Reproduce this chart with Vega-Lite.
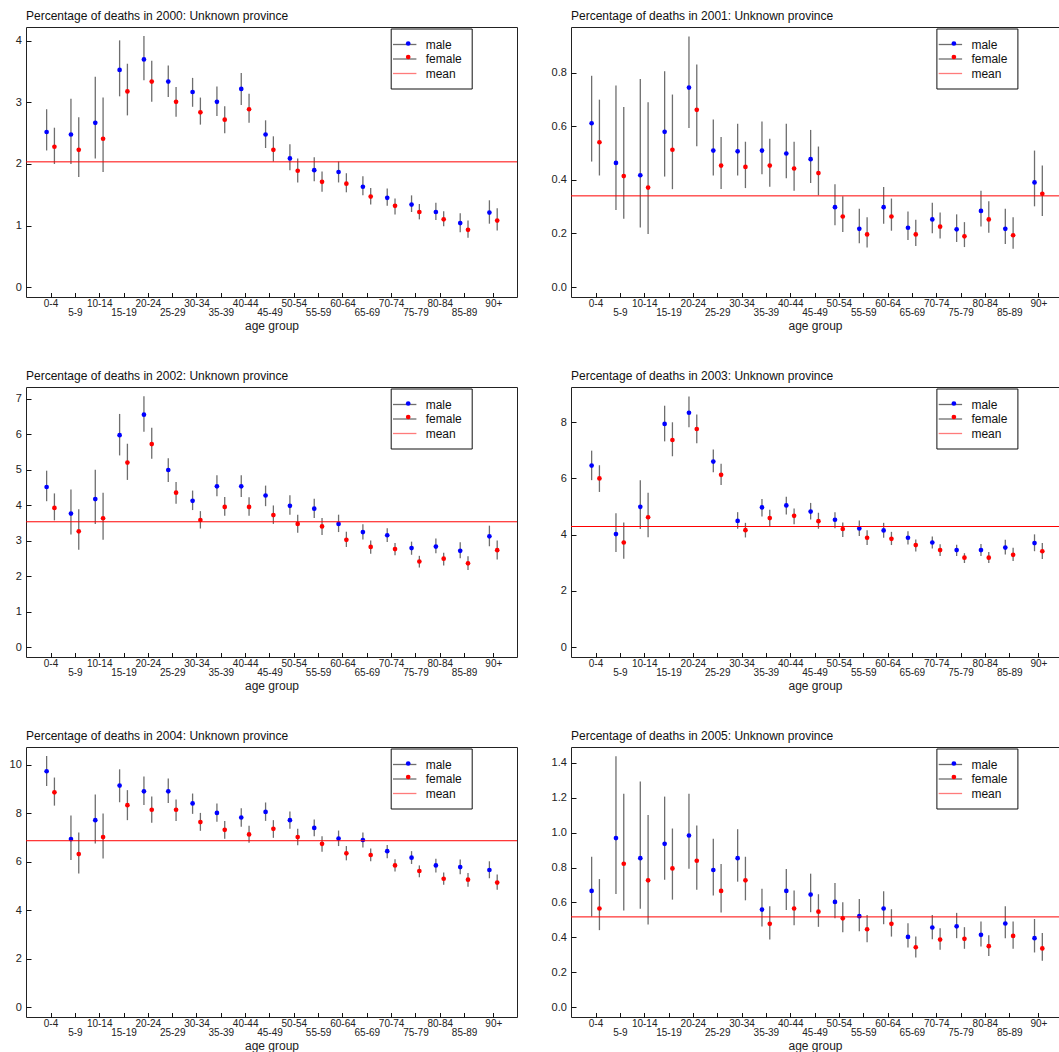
{
"$schema": "https://vega.github.io/schema/vega-lite/v6.json",
"background": "white",
"padding": {"left": 8, "top": 9, "right": 0, "bottom": 0},
"datasets": {
"means": [{"year":2000,"mean":2.035},{"year":2001,"mean":0.340},{"year":2002,"mean":3.53},{"year":2003,"mean":4.29},{"year":2004,"mean":6.87},{"year":2005,"mean":0.517}],
"deaths": [
{"year":2000,"age":"0-4","mid":2.5,"sex":"male","pct":2.52,"lo":2.22,"hi":2.89},
{"year":2000,"age":"5-9","mid":7.5,"sex":"male","pct":2.48,"lo":2.00,"hi":3.06},
{"year":2000,"age":"10-14","mid":12.5,"sex":"male","pct":2.67,"lo":2.09,"hi":3.42},
{"year":2000,"age":"15-19","mid":17.5,"sex":"male","pct":3.53,"lo":3.10,"hi":4.01},
{"year":2000,"age":"20-24","mid":22.5,"sex":"male","pct":3.70,"lo":3.36,"hi":4.08},
{"year":2000,"age":"25-29","mid":27.5,"sex":"male","pct":3.34,"lo":3.09,"hi":3.60},
{"year":2000,"age":"30-34","mid":32.5,"sex":"male","pct":3.17,"lo":2.93,"hi":3.40},
{"year":2000,"age":"35-39","mid":37.5,"sex":"male","pct":3.01,"lo":2.78,"hi":3.26},
{"year":2000,"age":"40-44","mid":42.5,"sex":"male","pct":3.22,"lo":2.96,"hi":3.48},
{"year":2000,"age":"45-49","mid":47.5,"sex":"male","pct":2.48,"lo":2.26,"hi":2.71},
{"year":2000,"age":"50-54","mid":52.5,"sex":"male","pct":2.09,"lo":1.90,"hi":2.32},
{"year":2000,"age":"55-59","mid":57.5,"sex":"male","pct":1.90,"lo":1.72,"hi":2.11},
{"year":2000,"age":"60-64","mid":62.5,"sex":"male","pct":1.87,"lo":1.70,"hi":2.04},
{"year":2000,"age":"65-69","mid":67.5,"sex":"male","pct":1.63,"lo":1.49,"hi":1.80},
{"year":2000,"age":"70-74","mid":72.5,"sex":"male","pct":1.45,"lo":1.32,"hi":1.60},
{"year":2000,"age":"75-79","mid":77.5,"sex":"male","pct":1.34,"lo":1.22,"hi":1.49},
{"year":2000,"age":"80-84","mid":82.5,"sex":"male","pct":1.22,"lo":1.09,"hi":1.37},
{"year":2000,"age":"85-89","mid":87.5,"sex":"male","pct":1.04,"lo":0.89,"hi":1.20},
{"year":2000,"age":"90+","mid":93.5,"sex":"male","pct":1.21,"lo":1.03,"hi":1.41},
{"year":2000,"age":"0-4","mid":2.5,"sex":"female","pct":2.28,"lo":2.00,"hi":2.59},
{"year":2000,"age":"5-9","mid":7.5,"sex":"female","pct":2.23,"lo":1.79,"hi":2.76},
{"year":2000,"age":"10-14","mid":12.5,"sex":"female","pct":2.41,"lo":1.87,"hi":3.08},
{"year":2000,"age":"15-19","mid":17.5,"sex":"female","pct":3.18,"lo":2.79,"hi":3.63},
{"year":2000,"age":"20-24","mid":22.5,"sex":"female","pct":3.34,"lo":3.01,"hi":3.68},
{"year":2000,"age":"25-29","mid":27.5,"sex":"female","pct":3.01,"lo":2.77,"hi":3.25},
{"year":2000,"age":"30-34","mid":32.5,"sex":"female","pct":2.84,"lo":2.64,"hi":3.08},
{"year":2000,"age":"35-39","mid":37.5,"sex":"female","pct":2.72,"lo":2.50,"hi":2.94},
{"year":2000,"age":"40-44","mid":42.5,"sex":"female","pct":2.89,"lo":2.67,"hi":3.14},
{"year":2000,"age":"45-49","mid":47.5,"sex":"female","pct":2.23,"lo":2.04,"hi":2.45},
{"year":2000,"age":"50-54","mid":52.5,"sex":"female","pct":1.89,"lo":1.70,"hi":2.09},
{"year":2000,"age":"55-59","mid":57.5,"sex":"female","pct":1.71,"lo":1.55,"hi":1.88},
{"year":2000,"age":"60-64","mid":62.5,"sex":"female","pct":1.68,"lo":1.54,"hi":1.85},
{"year":2000,"age":"65-69","mid":67.5,"sex":"female","pct":1.47,"lo":1.34,"hi":1.61},
{"year":2000,"age":"70-74","mid":72.5,"sex":"female","pct":1.32,"lo":1.18,"hi":1.44},
{"year":2000,"age":"75-79","mid":77.5,"sex":"female","pct":1.22,"lo":1.10,"hi":1.35},
{"year":2000,"age":"80-84","mid":82.5,"sex":"female","pct":1.10,"lo":0.99,"hi":1.23},
{"year":2000,"age":"85-89","mid":87.5,"sex":"female","pct":0.93,"lo":0.80,"hi":1.08},
{"year":2000,"age":"90+","mid":93.5,"sex":"female","pct":1.08,"lo":0.92,"hi":1.28},
{"year":2001,"age":"0-4","mid":2.5,"sex":"male","pct":0.611,"lo":0.468,"hi":0.788},
{"year":2001,"age":"5-9","mid":7.5,"sex":"male","pct":0.463,"lo":0.287,"hi":0.752},
{"year":2001,"age":"10-14","mid":12.5,"sex":"male","pct":0.417,"lo":0.222,"hi":0.776},
{"year":2001,"age":"15-19","mid":17.5,"sex":"male","pct":0.579,"lo":0.412,"hi":0.805},
{"year":2001,"age":"20-24","mid":22.5,"sex":"male","pct":0.744,"lo":0.593,"hi":0.935},
{"year":2001,"age":"25-29","mid":27.5,"sex":"male","pct":0.509,"lo":0.416,"hi":0.625},
{"year":2001,"age":"30-34","mid":32.5,"sex":"male","pct":0.506,"lo":0.416,"hi":0.609},
{"year":2001,"age":"35-39","mid":37.5,"sex":"male","pct":0.509,"lo":0.421,"hi":0.617},
{"year":2001,"age":"40-44","mid":42.5,"sex":"male","pct":0.498,"lo":0.406,"hi":0.609},
{"year":2001,"age":"45-49","mid":47.5,"sex":"male","pct":0.477,"lo":0.388,"hi":0.586},
{"year":2001,"age":"50-54","mid":52.5,"sex":"male","pct":0.298,"lo":0.230,"hi":0.383},
{"year":2001,"age":"55-59","mid":57.5,"sex":"male","pct":0.217,"lo":0.163,"hi":0.292},
{"year":2001,"age":"60-64","mid":62.5,"sex":"male","pct":0.298,"lo":0.236,"hi":0.373},
{"year":2001,"age":"65-69","mid":67.5,"sex":"male","pct":0.221,"lo":0.175,"hi":0.282},
{"year":2001,"age":"70-74","mid":72.5,"sex":"male","pct":0.252,"lo":0.201,"hi":0.314},
{"year":2001,"age":"75-79","mid":77.5,"sex":"male","pct":0.215,"lo":0.168,"hi":0.271},
{"year":2001,"age":"80-84","mid":82.5,"sex":"male","pct":0.284,"lo":0.226,"hi":0.359},
{"year":2001,"age":"85-89","mid":87.5,"sex":"male","pct":0.217,"lo":0.160,"hi":0.292},
{"year":2001,"age":"90+","mid":93.5,"sex":"male","pct":0.390,"lo":0.301,"hi":0.509},
{"year":2001,"age":"0-4","mid":2.5,"sex":"female","pct":0.540,"lo":0.416,"hi":0.699},
{"year":2001,"age":"5-9","mid":7.5,"sex":"female","pct":0.414,"lo":0.255,"hi":0.672},
{"year":2001,"age":"10-14","mid":12.5,"sex":"female","pct":0.371,"lo":0.198,"hi":0.689},
{"year":2001,"age":"15-19","mid":17.5,"sex":"female","pct":0.512,"lo":0.365,"hi":0.718},
{"year":2001,"age":"20-24","mid":22.5,"sex":"female","pct":0.661,"lo":0.525,"hi":0.830},
{"year":2001,"age":"25-29","mid":27.5,"sex":"female","pct":0.453,"lo":0.366,"hi":0.560},
{"year":2001,"age":"30-34","mid":32.5,"sex":"female","pct":0.448,"lo":0.369,"hi":0.542},
{"year":2001,"age":"35-39","mid":37.5,"sex":"female","pct":0.453,"lo":0.374,"hi":0.553},
{"year":2001,"age":"40-44","mid":42.5,"sex":"female","pct":0.442,"lo":0.359,"hi":0.542},
{"year":2001,"age":"45-49","mid":47.5,"sex":"female","pct":0.425,"lo":0.342,"hi":0.524},
{"year":2001,"age":"50-54","mid":52.5,"sex":"female","pct":0.263,"lo":0.205,"hi":0.339},
{"year":2001,"age":"55-59","mid":57.5,"sex":"female","pct":0.196,"lo":0.147,"hi":0.260},
{"year":2001,"age":"60-64","mid":62.5,"sex":"female","pct":0.263,"lo":0.210,"hi":0.330},
{"year":2001,"age":"65-69","mid":67.5,"sex":"female","pct":0.196,"lo":0.153,"hi":0.251},
{"year":2001,"age":"70-74","mid":72.5,"sex":"female","pct":0.225,"lo":0.181,"hi":0.278},
{"year":2001,"age":"75-79","mid":77.5,"sex":"female","pct":0.189,"lo":0.149,"hi":0.242},
{"year":2001,"age":"80-84","mid":82.5,"sex":"female","pct":0.252,"lo":0.202,"hi":0.320},
{"year":2001,"age":"85-89","mid":87.5,"sex":"female","pct":0.193,"lo":0.143,"hi":0.260},
{"year":2001,"age":"90+","mid":93.5,"sex":"female","pct":0.348,"lo":0.265,"hi":0.453},
{"year":2002,"age":"0-4","mid":2.5,"sex":"male","pct":4.51,"lo":4.11,"hi":4.97},
{"year":2002,"age":"5-9","mid":7.5,"sex":"male","pct":3.76,"lo":3.17,"hi":4.44},
{"year":2002,"age":"10-14","mid":12.5,"sex":"male","pct":4.17,"lo":3.47,"hi":5.00},
{"year":2002,"age":"15-19","mid":17.5,"sex":"male","pct":5.97,"lo":5.40,"hi":6.57},
{"year":2002,"age":"20-24","mid":22.5,"sex":"male","pct":6.55,"lo":6.07,"hi":7.07},
{"year":2002,"age":"25-29","mid":27.5,"sex":"male","pct":4.99,"lo":4.65,"hi":5.32},
{"year":2002,"age":"30-34","mid":32.5,"sex":"male","pct":4.12,"lo":3.86,"hi":4.41},
{"year":2002,"age":"35-39","mid":37.5,"sex":"male","pct":4.53,"lo":4.25,"hi":4.84},
{"year":2002,"age":"40-44","mid":42.5,"sex":"male","pct":4.53,"lo":4.23,"hi":4.84},
{"year":2002,"age":"45-49","mid":47.5,"sex":"male","pct":4.27,"lo":3.97,"hi":4.55},
{"year":2002,"age":"50-54","mid":52.5,"sex":"male","pct":3.98,"lo":3.73,"hi":4.28},
{"year":2002,"age":"55-59","mid":57.5,"sex":"male","pct":3.90,"lo":3.64,"hi":4.18},
{"year":2002,"age":"60-64","mid":62.5,"sex":"male","pct":3.47,"lo":3.24,"hi":3.73},
{"year":2002,"age":"65-69","mid":67.5,"sex":"male","pct":3.24,"lo":3.03,"hi":3.46},
{"year":2002,"age":"70-74","mid":72.5,"sex":"male","pct":3.15,"lo":2.96,"hi":3.35},
{"year":2002,"age":"75-79","mid":77.5,"sex":"male","pct":2.79,"lo":2.60,"hi":2.97},
{"year":2002,"age":"80-84","mid":82.5,"sex":"male","pct":2.83,"lo":2.64,"hi":3.06},
{"year":2002,"age":"85-89","mid":87.5,"sex":"male","pct":2.71,"lo":2.50,"hi":2.95},
{"year":2002,"age":"90+","mid":93.5,"sex":"male","pct":3.12,"lo":2.84,"hi":3.42},
{"year":2002,"age":"0-4","mid":2.5,"sex":"female","pct":3.92,"lo":3.57,"hi":4.33},
{"year":2002,"age":"5-9","mid":7.5,"sex":"female","pct":3.26,"lo":2.74,"hi":3.88},
{"year":2002,"age":"10-14","mid":12.5,"sex":"female","pct":3.63,"lo":3.02,"hi":4.35},
{"year":2002,"age":"15-19","mid":17.5,"sex":"female","pct":5.20,"lo":4.71,"hi":5.73},
{"year":2002,"age":"20-24","mid":22.5,"sex":"female","pct":5.72,"lo":5.31,"hi":6.18},
{"year":2002,"age":"25-29","mid":27.5,"sex":"female","pct":4.35,"lo":4.04,"hi":4.65},
{"year":2002,"age":"30-34","mid":32.5,"sex":"female","pct":3.58,"lo":3.34,"hi":3.83},
{"year":2002,"age":"35-39","mid":37.5,"sex":"female","pct":3.95,"lo":3.70,"hi":4.23},
{"year":2002,"age":"40-44","mid":42.5,"sex":"female","pct":3.95,"lo":3.70,"hi":4.22},
{"year":2002,"age":"45-49","mid":47.5,"sex":"female","pct":3.72,"lo":3.47,"hi":3.99},
{"year":2002,"age":"50-54","mid":52.5,"sex":"female","pct":3.47,"lo":3.22,"hi":3.73},
{"year":2002,"age":"55-59","mid":57.5,"sex":"female","pct":3.40,"lo":3.16,"hi":3.64},
{"year":2002,"age":"60-64","mid":62.5,"sex":"female","pct":3.02,"lo":2.82,"hi":3.25},
{"year":2002,"age":"65-69","mid":67.5,"sex":"female","pct":2.82,"lo":2.63,"hi":3.00},
{"year":2002,"age":"70-74","mid":72.5,"sex":"female","pct":2.76,"lo":2.59,"hi":2.93},
{"year":2002,"age":"75-79","mid":77.5,"sex":"female","pct":2.41,"lo":2.24,"hi":2.57},
{"year":2002,"age":"80-84","mid":82.5,"sex":"female","pct":2.49,"lo":2.30,"hi":2.66},
{"year":2002,"age":"85-89","mid":87.5,"sex":"female","pct":2.36,"lo":2.17,"hi":2.56},
{"year":2002,"age":"90+","mid":93.5,"sex":"female","pct":2.73,"lo":2.47,"hi":3.00},
{"year":2003,"age":"0-4","mid":2.5,"sex":"male","pct":6.46,"lo":5.94,"hi":6.99},
{"year":2003,"age":"5-9","mid":7.5,"sex":"male","pct":4.02,"lo":3.38,"hi":4.76},
{"year":2003,"age":"10-14","mid":12.5,"sex":"male","pct":4.99,"lo":4.20,"hi":5.94},
{"year":2003,"age":"15-19","mid":17.5,"sex":"male","pct":7.94,"lo":7.32,"hi":8.59},
{"year":2003,"age":"20-24","mid":22.5,"sex":"male","pct":8.34,"lo":7.82,"hi":8.92},
{"year":2003,"age":"25-29","mid":27.5,"sex":"male","pct":6.60,"lo":6.22,"hi":7.03},
{"year":2003,"age":"30-34","mid":32.5,"sex":"male","pct":4.49,"lo":4.21,"hi":4.80},
{"year":2003,"age":"35-39","mid":37.5,"sex":"male","pct":4.97,"lo":4.65,"hi":5.27},
{"year":2003,"age":"40-44","mid":42.5,"sex":"male","pct":5.04,"lo":4.72,"hi":5.35},
{"year":2003,"age":"45-49","mid":47.5,"sex":"male","pct":4.82,"lo":4.54,"hi":5.13},
{"year":2003,"age":"50-54","mid":52.5,"sex":"male","pct":4.53,"lo":4.23,"hi":4.80},
{"year":2003,"age":"55-59","mid":57.5,"sex":"male","pct":4.22,"lo":3.95,"hi":4.50},
{"year":2003,"age":"60-64","mid":62.5,"sex":"male","pct":4.15,"lo":3.89,"hi":4.42},
{"year":2003,"age":"65-69","mid":67.5,"sex":"male","pct":3.89,"lo":3.65,"hi":4.12},
{"year":2003,"age":"70-74","mid":72.5,"sex":"male","pct":3.72,"lo":3.51,"hi":3.93},
{"year":2003,"age":"75-79","mid":77.5,"sex":"male","pct":3.45,"lo":3.24,"hi":3.64},
{"year":2003,"age":"80-84","mid":82.5,"sex":"male","pct":3.45,"lo":3.24,"hi":3.67},
{"year":2003,"age":"85-89","mid":87.5,"sex":"male","pct":3.54,"lo":3.29,"hi":3.82},
{"year":2003,"age":"90+","mid":93.5,"sex":"male","pct":3.70,"lo":3.41,"hi":4.01},
{"year":2003,"age":"0-4","mid":2.5,"sex":"female","pct":6.00,"lo":5.52,"hi":6.47},
{"year":2003,"age":"5-9","mid":7.5,"sex":"female","pct":3.72,"lo":3.14,"hi":4.43},
{"year":2003,"age":"10-14","mid":12.5,"sex":"female","pct":4.62,"lo":3.91,"hi":5.49},
{"year":2003,"age":"15-19","mid":17.5,"sex":"female","pct":7.37,"lo":6.79,"hi":8.00},
{"year":2003,"age":"20-24","mid":22.5,"sex":"female","pct":7.76,"lo":7.25,"hi":8.28},
{"year":2003,"age":"25-29","mid":27.5,"sex":"female","pct":6.13,"lo":5.77,"hi":6.52},
{"year":2003,"age":"30-34","mid":32.5,"sex":"female","pct":4.16,"lo":3.90,"hi":4.42},
{"year":2003,"age":"35-39","mid":37.5,"sex":"female","pct":4.59,"lo":4.30,"hi":4.89},
{"year":2003,"age":"40-44","mid":42.5,"sex":"female","pct":4.67,"lo":4.37,"hi":4.93},
{"year":2003,"age":"45-49","mid":47.5,"sex":"female","pct":4.48,"lo":4.21,"hi":4.78},
{"year":2003,"age":"50-54","mid":52.5,"sex":"female","pct":4.20,"lo":3.92,"hi":4.43},
{"year":2003,"age":"55-59","mid":57.5,"sex":"female","pct":3.89,"lo":3.63,"hi":4.16},
{"year":2003,"age":"60-64","mid":62.5,"sex":"female","pct":3.85,"lo":3.63,"hi":4.10},
{"year":2003,"age":"65-69","mid":67.5,"sex":"female","pct":3.63,"lo":3.40,"hi":3.83},
{"year":2003,"age":"70-74","mid":72.5,"sex":"female","pct":3.45,"lo":3.24,"hi":3.66},
{"year":2003,"age":"75-79","mid":77.5,"sex":"female","pct":3.18,"lo":2.99,"hi":3.34},
{"year":2003,"age":"80-84","mid":82.5,"sex":"female","pct":3.18,"lo":2.99,"hi":3.38},
{"year":2003,"age":"85-89","mid":87.5,"sex":"female","pct":3.28,"lo":3.06,"hi":3.53},
{"year":2003,"age":"90+","mid":93.5,"sex":"female","pct":3.41,"lo":3.13,"hi":3.70},
{"year":2004,"age":"0-4","mid":2.5,"sex":"male","pct":9.74,"lo":9.13,"hi":10.37},
{"year":2004,"age":"5-9","mid":7.5,"sex":"male","pct":6.94,"lo":6.07,"hi":7.91},
{"year":2004,"age":"10-14","mid":12.5,"sex":"male","pct":7.72,"lo":6.76,"hi":8.78},
{"year":2004,"age":"15-19","mid":17.5,"sex":"male","pct":9.15,"lo":8.46,"hi":9.82},
{"year":2004,"age":"20-24","mid":22.5,"sex":"male","pct":8.91,"lo":8.35,"hi":9.52},
{"year":2004,"age":"25-29","mid":27.5,"sex":"male","pct":8.91,"lo":8.43,"hi":9.44},
{"year":2004,"age":"30-34","mid":32.5,"sex":"male","pct":8.41,"lo":7.98,"hi":8.82},
{"year":2004,"age":"35-39","mid":37.5,"sex":"male","pct":8.02,"lo":7.65,"hi":8.41},
{"year":2004,"age":"40-44","mid":42.5,"sex":"male","pct":7.83,"lo":7.45,"hi":8.21},
{"year":2004,"age":"45-49","mid":47.5,"sex":"male","pct":8.06,"lo":7.69,"hi":8.45},
{"year":2004,"age":"50-54","mid":52.5,"sex":"male","pct":7.72,"lo":7.36,"hi":8.08},
{"year":2004,"age":"55-59","mid":57.5,"sex":"male","pct":7.40,"lo":7.06,"hi":7.75},
{"year":2004,"age":"60-64","mid":62.5,"sex":"male","pct":6.96,"lo":6.65,"hi":7.29},
{"year":2004,"age":"65-69","mid":67.5,"sex":"male","pct":6.90,"lo":6.59,"hi":7.21},
{"year":2004,"age":"70-74","mid":72.5,"sex":"male","pct":6.44,"lo":6.15,"hi":6.69},
{"year":2004,"age":"75-79","mid":77.5,"sex":"male","pct":6.17,"lo":5.91,"hi":6.44},
{"year":2004,"age":"80-84","mid":82.5,"sex":"male","pct":5.85,"lo":5.56,"hi":6.13},
{"year":2004,"age":"85-89","mid":87.5,"sex":"male","pct":5.78,"lo":5.48,"hi":6.09},
{"year":2004,"age":"90+","mid":93.5,"sex":"male","pct":5.66,"lo":5.32,"hi":6.02},
{"year":2004,"age":"0-4","mid":2.5,"sex":"female","pct":8.87,"lo":8.32,"hi":9.48},
{"year":2004,"age":"5-9","mid":7.5,"sex":"female","pct":6.32,"lo":5.52,"hi":7.21},
{"year":2004,"age":"10-14","mid":12.5,"sex":"female","pct":7.02,"lo":6.14,"hi":7.99},
{"year":2004,"age":"15-19","mid":17.5,"sex":"female","pct":8.34,"lo":7.72,"hi":8.96},
{"year":2004,"age":"20-24","mid":22.5,"sex":"female","pct":8.15,"lo":7.61,"hi":8.70},
{"year":2004,"age":"25-29","mid":27.5,"sex":"female","pct":8.15,"lo":7.69,"hi":8.57},
{"year":2004,"age":"30-34","mid":32.5,"sex":"female","pct":7.64,"lo":7.28,"hi":8.02},
{"year":2004,"age":"35-39","mid":37.5,"sex":"female","pct":7.32,"lo":6.95,"hi":7.68},
{"year":2004,"age":"40-44","mid":42.5,"sex":"female","pct":7.13,"lo":6.79,"hi":7.49},
{"year":2004,"age":"45-49","mid":47.5,"sex":"female","pct":7.36,"lo":6.99,"hi":7.72},
{"year":2004,"age":"50-54","mid":52.5,"sex":"female","pct":7.02,"lo":6.68,"hi":7.36},
{"year":2004,"age":"55-59","mid":57.5,"sex":"female","pct":6.74,"lo":6.41,"hi":7.06},
{"year":2004,"age":"60-64","mid":62.5,"sex":"female","pct":6.35,"lo":6.06,"hi":6.65},
{"year":2004,"age":"65-69","mid":67.5,"sex":"female","pct":6.28,"lo":6.02,"hi":6.55},
{"year":2004,"age":"70-74","mid":72.5,"sex":"female","pct":5.85,"lo":5.60,"hi":6.10},
{"year":2004,"age":"75-79","mid":77.5,"sex":"female","pct":5.62,"lo":5.36,"hi":5.85},
{"year":2004,"age":"80-84","mid":82.5,"sex":"female","pct":5.30,"lo":5.05,"hi":5.56},
{"year":2004,"age":"85-89","mid":87.5,"sex":"female","pct":5.26,"lo":4.97,"hi":5.54},
{"year":2004,"age":"90+","mid":93.5,"sex":"female","pct":5.14,"lo":4.84,"hi":5.47},
{"year":2005,"age":"0-4","mid":2.5,"sex":"male","pct":0.666,"lo":0.519,"hi":0.862},
{"year":2005,"age":"5-9","mid":7.5,"sex":"male","pct":0.969,"lo":0.648,"hi":1.438},
{"year":2005,"age":"10-14","mid":12.5,"sex":"male","pct":0.854,"lo":0.563,"hi":1.293},
{"year":2005,"age":"15-19","mid":17.5,"sex":"male","pct":0.936,"lo":0.730,"hi":1.207},
{"year":2005,"age":"20-24","mid":22.5,"sex":"male","pct":0.984,"lo":0.793,"hi":1.224},
{"year":2005,"age":"25-29","mid":27.5,"sex":"male","pct":0.786,"lo":0.639,"hi":0.965},
{"year":2005,"age":"30-34","mid":32.5,"sex":"male","pct":0.854,"lo":0.719,"hi":1.020},
{"year":2005,"age":"35-39","mid":37.5,"sex":"male","pct":0.559,"lo":0.462,"hi":0.679},
{"year":2005,"age":"40-44","mid":42.5,"sex":"male","pct":0.666,"lo":0.557,"hi":0.792},
{"year":2005,"age":"45-49","mid":47.5,"sex":"male","pct":0.645,"lo":0.544,"hi":0.765},
{"year":2005,"age":"50-54","mid":52.5,"sex":"male","pct":0.603,"lo":0.509,"hi":0.711},
{"year":2005,"age":"55-59","mid":57.5,"sex":"male","pct":0.521,"lo":0.435,"hi":0.620},
{"year":2005,"age":"60-64","mid":62.5,"sex":"male","pct":0.565,"lo":0.475,"hi":0.664},
{"year":2005,"age":"65-69","mid":67.5,"sex":"male","pct":0.402,"lo":0.341,"hi":0.481},
{"year":2005,"age":"70-74","mid":72.5,"sex":"male","pct":0.456,"lo":0.389,"hi":0.528},
{"year":2005,"age":"75-79","mid":77.5,"sex":"male","pct":0.463,"lo":0.395,"hi":0.540},
{"year":2005,"age":"80-84","mid":82.5,"sex":"male","pct":0.414,"lo":0.347,"hi":0.490},
{"year":2005,"age":"85-89","mid":87.5,"sex":"male","pct":0.479,"lo":0.395,"hi":0.578},
{"year":2005,"age":"90+","mid":93.5,"sex":"male","pct":0.395,"lo":0.313,"hi":0.505},
{"year":2005,"age":"0-4","mid":2.5,"sex":"female","pct":0.565,"lo":0.441,"hi":0.734},
{"year":2005,"age":"5-9","mid":7.5,"sex":"female","pct":0.822,"lo":0.553,"hi":1.224},
{"year":2005,"age":"10-14","mid":12.5,"sex":"female","pct":0.727,"lo":0.473,"hi":1.101},
{"year":2005,"age":"15-19","mid":17.5,"sex":"female","pct":0.795,"lo":0.616,"hi":1.024},
{"year":2005,"age":"20-24","mid":22.5,"sex":"female","pct":0.839,"lo":0.673,"hi":1.041},
{"year":2005,"age":"25-29","mid":27.5,"sex":"female","pct":0.666,"lo":0.542,"hi":0.820},
{"year":2005,"age":"30-34","mid":32.5,"sex":"female","pct":0.727,"lo":0.612,"hi":0.862},
{"year":2005,"age":"35-39","mid":37.5,"sex":"female","pct":0.477,"lo":0.387,"hi":0.578},
{"year":2005,"age":"40-44","mid":42.5,"sex":"female","pct":0.565,"lo":0.469,"hi":0.668},
{"year":2005,"age":"45-49","mid":47.5,"sex":"female","pct":0.547,"lo":0.460,"hi":0.647},
{"year":2005,"age":"50-54","mid":52.5,"sex":"female","pct":0.509,"lo":0.429,"hi":0.601},
{"year":2005,"age":"55-59","mid":57.5,"sex":"female","pct":0.446,"lo":0.372,"hi":0.528},
{"year":2005,"age":"60-64","mid":62.5,"sex":"female","pct":0.477,"lo":0.404,"hi":0.561},
{"year":2005,"age":"65-69","mid":67.5,"sex":"female","pct":0.343,"lo":0.284,"hi":0.404},
{"year":2005,"age":"70-74","mid":72.5,"sex":"female","pct":0.387,"lo":0.328,"hi":0.452},
{"year":2005,"age":"75-79","mid":77.5,"sex":"female","pct":0.391,"lo":0.334,"hi":0.458},
{"year":2005,"age":"80-84","mid":82.5,"sex":"female","pct":0.349,"lo":0.292,"hi":0.412},
{"year":2005,"age":"85-89","mid":87.5,"sex":"female","pct":0.408,"lo":0.334,"hi":0.490},
{"year":2005,"age":"90+","mid":93.5,"sex":"female","pct":0.336,"lo":0.265,"hi":0.425}
]
},
"columns": 2,
"spacing": {"row": 90, "column": 54},
"bounds": "flush",
"align": "each",
"resolve": {"scale": {"color": "independent", "stroke": "independent"}, "legend": {"color": "independent", "stroke": "independent"}},
"concat": [
{"title": "Percentage of deaths in 2000: Unknown province", "width": 491, "height": 270,
 "layer": [
  {"data": {"name": "deaths"}, "transform": [{"filter": "datum.year == 2000 && datum.sex == 'male'"}],
   "mark": {"type": "rule", "xOffset": -3.9, "strokeWidth": 1.3},
   "encoding": {
    "x": {"field": "mid", "type": "quantitative", "scale": {"domain": [-2.54, 98.37], "nice": false, "zero": false},
      "axis": {"title": "age group", "titleY": 32, "titleBaseline": "alphabetic", "labelOverlap": false, "tickCount": 100, "values": [2.5,7.5,12.5,17.5,22.5,27.5,32.5,37.5,42.5,47.5,52.5,57.5,62.5,67.5,72.5,77.5,82.5,87.5,93.5], "labelExpr": "datum.value > 90 ? '90+' : format(datum.value - 2.5, 'd') + '-' + format(datum.value + 1.5, 'd')", "labelPadding": {"condition": {"test": "(datum.value - 2.5) % 10 == 5", "value": 22.7}, "value": 13.7}}},
    "y": {"field": "lo", "type": "quantitative", "scale": {"domain": [-0.162, 4.227], "nice": false, "zero": false}, "axis": {"title": null, "labelOverlap": false, "tickCount": 100, "values": [0,1,2,3,4], "format": "d"}},
    "y2": {"field": "hi"},
    "stroke": {"field": "sex", "type": "nominal", "scale": {"domain": ["male","female","mean"], "range": ["#6e6e6e","#6e6e6e","#ff7b7b"]}, "legend": {"title": null, "orient": "none", "legendX": 364.7, "legendY": 1.5, "symbolType": "M-1.95,0H1.95", "symbolSize": 144, "symbolStrokeWidth": 1.3, "symbolOffset": -2, "strokeColor": "#111111", "fillColor": "#ffffff"}}}},
  {"data": {"name": "deaths"}, "transform": [{"filter": "datum.year == 2000 && datum.sex == 'female'"}],
   "mark": {"type": "rule", "xOffset": 3.9, "strokeWidth": 1.3},
   "encoding": {
    "x": {"field": "mid", "type": "quantitative", "scale": {"domain": [-2.54, 98.37], "nice": false, "zero": false}},
    "y": {"field": "lo", "type": "quantitative", "scale": {"domain": [-0.162, 4.227], "nice": false, "zero": false}},
    "y2": {"field": "hi"},
    "stroke": {"field": "sex", "type": "nominal", "scale": {"domain": ["male","female","mean"], "range": ["#6e6e6e","#6e6e6e","#ff7b7b"]}, "legend": {"title": null, "orient": "none", "legendX": 364.7, "legendY": 1.5, "symbolType": "M-1.95,0H1.95", "symbolSize": 144, "symbolStrokeWidth": 1.3, "symbolOffset": -2, "strokeColor": "#111111", "fillColor": "#ffffff"}}}},
  {"data": {"name": "deaths"}, "transform": [{"filter": "datum.year == 2000 && datum.sex == 'male'"}],
   "mark": {"type": "point", "filled": true, "opacity": 1, "size": 22, "xOffset": -3.9},
   "encoding": {
    "x": {"field": "mid", "type": "quantitative", "scale": {"domain": [-2.54, 98.37], "nice": false, "zero": false}},
    "y": {"field": "pct", "type": "quantitative", "scale": {"domain": [-0.162, 4.227], "nice": false, "zero": false}},
    "color": {"field": "sex", "type": "nominal", "scale": {"domain": ["male","female"], "range": ["#0000ff","#ff0000"]}, "legend": {"title": null, "orient": "none", "legendX": 364.7, "legendY": 1.5, "symbolType": "circle", "symbolSize": 22, "symbolStrokeWidth": 0, "symbolOffset": 2.5, "symbolOpacity": 1, "labelOpacity": 0, "labelExpr": "''", "strokeColor": "transparent", "fillColor": "transparent"}}}},
  {"data": {"name": "deaths"}, "transform": [{"filter": "datum.year == 2000 && datum.sex == 'female'"}],
   "mark": {"type": "point", "filled": true, "opacity": 1, "size": 22, "xOffset": 3.9},
   "encoding": {
    "x": {"field": "mid", "type": "quantitative", "scale": {"domain": [-2.54, 98.37], "nice": false, "zero": false}},
    "y": {"field": "pct", "type": "quantitative", "scale": {"domain": [-0.162, 4.227], "nice": false, "zero": false}},
    "color": {"field": "sex", "type": "nominal", "scale": {"domain": ["male","female"], "range": ["#0000ff","#ff0000"]}, "legend": {"title": null, "orient": "none", "legendX": 364.7, "legendY": 1.5, "symbolType": "circle", "symbolSize": 22, "symbolStrokeWidth": 0, "symbolOffset": 2.5, "symbolOpacity": 1, "labelOpacity": 0, "labelExpr": "''", "strokeColor": "transparent", "fillColor": "transparent"}}}},
  {"data": {"name": "means"}, "transform": [{"filter": "datum.year == 2000"}],
   "mark": {"type": "rule", "color": "#ff0000", "strokeWidth": 1},
   "encoding": {"y": {"field": "mean", "type": "quantitative", "scale": {"domain": [-0.162, 4.227], "nice": false, "zero": false}}}}
 ]},
{"title": "Percentage of deaths in 2001: Unknown province", "width": 488, "height": 270,
 "layer": [
  {"data": {"name": "deaths"}, "transform": [{"filter": "datum.year == 2001 && datum.sex == 'male'"}],
   "mark": {"type": "rule", "xOffset": -3.9, "strokeWidth": 1.3},
   "encoding": {
    "x": {"field": "mid", "type": "quantitative", "scale": {"domain": [-2.54, 97.73], "nice": false, "zero": false},
      "axis": {"title": "age group", "titleY": 32, "titleBaseline": "alphabetic", "labelOverlap": false, "tickCount": 100, "values": [2.5,7.5,12.5,17.5,22.5,27.5,32.5,37.5,42.5,47.5,52.5,57.5,62.5,67.5,72.5,77.5,82.5,87.5,93.5], "labelExpr": "datum.value > 90 ? '90+' : format(datum.value - 2.5, 'd') + '-' + format(datum.value + 1.5, 'd')", "labelPadding": {"condition": {"test": "(datum.value - 2.5) % 10 == 5", "value": 22.7}, "value": 13.7}}},
    "y": {"field": "lo", "type": "quantitative", "scale": {"domain": [-0.0373, 0.970], "nice": false, "zero": false}, "axis": {"title": null, "labelOverlap": false, "tickCount": 100, "values": [0,0.2,0.4,0.6,0.8], "format": ".1f"}},
    "y2": {"field": "hi"},
    "stroke": {"field": "sex", "type": "nominal", "scale": {"domain": ["male","female","mean"], "range": ["#6e6e6e","#6e6e6e","#ff7b7b"]}, "legend": {"title": null, "orient": "none", "legendX": 365.4, "legendY": 1.5, "symbolType": "M-1.95,0H1.95", "symbolSize": 144, "symbolStrokeWidth": 1.3, "symbolOffset": -2, "strokeColor": "#111111", "fillColor": "#ffffff"}}}},
  {"data": {"name": "deaths"}, "transform": [{"filter": "datum.year == 2001 && datum.sex == 'female'"}],
   "mark": {"type": "rule", "xOffset": 3.9, "strokeWidth": 1.3},
   "encoding": {
    "x": {"field": "mid", "type": "quantitative", "scale": {"domain": [-2.54, 97.73], "nice": false, "zero": false}},
    "y": {"field": "lo", "type": "quantitative", "scale": {"domain": [-0.0373, 0.970], "nice": false, "zero": false}},
    "y2": {"field": "hi"},
    "stroke": {"field": "sex", "type": "nominal", "scale": {"domain": ["male","female","mean"], "range": ["#6e6e6e","#6e6e6e","#ff7b7b"]}, "legend": {"title": null, "orient": "none", "legendX": 365.4, "legendY": 1.5, "symbolType": "M-1.95,0H1.95", "symbolSize": 144, "symbolStrokeWidth": 1.3, "symbolOffset": -2, "strokeColor": "#111111", "fillColor": "#ffffff"}}}},
  {"data": {"name": "deaths"}, "transform": [{"filter": "datum.year == 2001 && datum.sex == 'male'"}],
   "mark": {"type": "point", "filled": true, "opacity": 1, "size": 22, "xOffset": -3.9},
   "encoding": {
    "x": {"field": "mid", "type": "quantitative", "scale": {"domain": [-2.54, 97.73], "nice": false, "zero": false}},
    "y": {"field": "pct", "type": "quantitative", "scale": {"domain": [-0.0373, 0.970], "nice": false, "zero": false}},
    "color": {"field": "sex", "type": "nominal", "scale": {"domain": ["male","female"], "range": ["#0000ff","#ff0000"]}, "legend": {"title": null, "orient": "none", "legendX": 365.4, "legendY": 1.5, "symbolType": "circle", "symbolSize": 22, "symbolStrokeWidth": 0, "symbolOffset": 2.5, "symbolOpacity": 1, "labelOpacity": 0, "labelExpr": "''", "strokeColor": "transparent", "fillColor": "transparent"}}}},
  {"data": {"name": "deaths"}, "transform": [{"filter": "datum.year == 2001 && datum.sex == 'female'"}],
   "mark": {"type": "point", "filled": true, "opacity": 1, "size": 22, "xOffset": 3.9},
   "encoding": {
    "x": {"field": "mid", "type": "quantitative", "scale": {"domain": [-2.54, 97.73], "nice": false, "zero": false}},
    "y": {"field": "pct", "type": "quantitative", "scale": {"domain": [-0.0373, 0.970], "nice": false, "zero": false}},
    "color": {"field": "sex", "type": "nominal", "scale": {"domain": ["male","female"], "range": ["#0000ff","#ff0000"]}, "legend": {"title": null, "orient": "none", "legendX": 365.4, "legendY": 1.5, "symbolType": "circle", "symbolSize": 22, "symbolStrokeWidth": 0, "symbolOffset": 2.5, "symbolOpacity": 1, "labelOpacity": 0, "labelExpr": "''", "strokeColor": "transparent", "fillColor": "transparent"}}}},
  {"data": {"name": "means"}, "transform": [{"filter": "datum.year == 2001"}],
   "mark": {"type": "rule", "color": "#ff0000", "strokeWidth": 1},
   "encoding": {"y": {"field": "mean", "type": "quantitative", "scale": {"domain": [-0.0373, 0.970], "nice": false, "zero": false}}}}
 ]},
{"title": "Percentage of deaths in 2002: Unknown province", "width": 491, "height": 270,
 "layer": [
  {"data": {"name": "deaths"}, "transform": [{"filter": "datum.year == 2002 && datum.sex == 'male'"}],
   "mark": {"type": "rule", "xOffset": -3.9, "strokeWidth": 1.3},
   "encoding": {
    "x": {"field": "mid", "type": "quantitative", "scale": {"domain": [-2.54, 98.37], "nice": false, "zero": false},
      "axis": {"title": "age group", "titleY": 32, "titleBaseline": "alphabetic", "labelOverlap": false, "tickCount": 100, "values": [2.5,7.5,12.5,17.5,22.5,27.5,32.5,37.5,42.5,47.5,52.5,57.5,62.5,67.5,72.5,77.5,82.5,87.5,93.5], "labelExpr": "datum.value > 90 ? '90+' : format(datum.value - 2.5, 'd') + '-' + format(datum.value + 1.5, 'd')", "labelPadding": {"condition": {"test": "(datum.value - 2.5) % 10 == 5", "value": 22.7}, "value": 13.7}}},
    "y": {"field": "lo", "type": "quantitative", "scale": {"domain": [-0.2815, 7.329], "nice": false, "zero": false}, "axis": {"title": null, "labelOverlap": false, "tickCount": 100, "values": [0,1,2,3,4,5,6,7], "format": "d"}},
    "y2": {"field": "hi"},
    "stroke": {"field": "sex", "type": "nominal", "scale": {"domain": ["male","female","mean"], "range": ["#6e6e6e","#6e6e6e","#ff7b7b"]}, "legend": {"title": null, "orient": "none", "legendX": 364.7, "legendY": 1.5, "symbolType": "M-1.95,0H1.95", "symbolSize": 144, "symbolStrokeWidth": 1.3, "symbolOffset": -2, "strokeColor": "#111111", "fillColor": "#ffffff"}}}},
  {"data": {"name": "deaths"}, "transform": [{"filter": "datum.year == 2002 && datum.sex == 'female'"}],
   "mark": {"type": "rule", "xOffset": 3.9, "strokeWidth": 1.3},
   "encoding": {
    "x": {"field": "mid", "type": "quantitative", "scale": {"domain": [-2.54, 98.37], "nice": false, "zero": false}},
    "y": {"field": "lo", "type": "quantitative", "scale": {"domain": [-0.2815, 7.329], "nice": false, "zero": false}},
    "y2": {"field": "hi"},
    "stroke": {"field": "sex", "type": "nominal", "scale": {"domain": ["male","female","mean"], "range": ["#6e6e6e","#6e6e6e","#ff7b7b"]}, "legend": {"title": null, "orient": "none", "legendX": 364.7, "legendY": 1.5, "symbolType": "M-1.95,0H1.95", "symbolSize": 144, "symbolStrokeWidth": 1.3, "symbolOffset": -2, "strokeColor": "#111111", "fillColor": "#ffffff"}}}},
  {"data": {"name": "deaths"}, "transform": [{"filter": "datum.year == 2002 && datum.sex == 'male'"}],
   "mark": {"type": "point", "filled": true, "opacity": 1, "size": 22, "xOffset": -3.9},
   "encoding": {
    "x": {"field": "mid", "type": "quantitative", "scale": {"domain": [-2.54, 98.37], "nice": false, "zero": false}},
    "y": {"field": "pct", "type": "quantitative", "scale": {"domain": [-0.2815, 7.329], "nice": false, "zero": false}},
    "color": {"field": "sex", "type": "nominal", "scale": {"domain": ["male","female"], "range": ["#0000ff","#ff0000"]}, "legend": {"title": null, "orient": "none", "legendX": 364.7, "legendY": 1.5, "symbolType": "circle", "symbolSize": 22, "symbolStrokeWidth": 0, "symbolOffset": 2.5, "symbolOpacity": 1, "labelOpacity": 0, "labelExpr": "''", "strokeColor": "transparent", "fillColor": "transparent"}}}},
  {"data": {"name": "deaths"}, "transform": [{"filter": "datum.year == 2002 && datum.sex == 'female'"}],
   "mark": {"type": "point", "filled": true, "opacity": 1, "size": 22, "xOffset": 3.9},
   "encoding": {
    "x": {"field": "mid", "type": "quantitative", "scale": {"domain": [-2.54, 98.37], "nice": false, "zero": false}},
    "y": {"field": "pct", "type": "quantitative", "scale": {"domain": [-0.2815, 7.329], "nice": false, "zero": false}},
    "color": {"field": "sex", "type": "nominal", "scale": {"domain": ["male","female"], "range": ["#0000ff","#ff0000"]}, "legend": {"title": null, "orient": "none", "legendX": 364.7, "legendY": 1.5, "symbolType": "circle", "symbolSize": 22, "symbolStrokeWidth": 0, "symbolOffset": 2.5, "symbolOpacity": 1, "labelOpacity": 0, "labelExpr": "''", "strokeColor": "transparent", "fillColor": "transparent"}}}},
  {"data": {"name": "means"}, "transform": [{"filter": "datum.year == 2002"}],
   "mark": {"type": "rule", "color": "#ff0000", "strokeWidth": 1},
   "encoding": {"y": {"field": "mean", "type": "quantitative", "scale": {"domain": [-0.2815, 7.329], "nice": false, "zero": false}}}}
 ]},
{"title": "Percentage of deaths in 2003: Unknown province", "width": 488, "height": 270,
 "layer": [
  {"data": {"name": "deaths"}, "transform": [{"filter": "datum.year == 2003 && datum.sex == 'male'"}],
   "mark": {"type": "rule", "xOffset": -3.9, "strokeWidth": 1.3},
   "encoding": {
    "x": {"field": "mid", "type": "quantitative", "scale": {"domain": [-2.54, 97.73], "nice": false, "zero": false},
      "axis": {"title": "age group", "titleY": 32, "titleBaseline": "alphabetic", "labelOverlap": false, "tickCount": 100, "values": [2.5,7.5,12.5,17.5,22.5,27.5,32.5,37.5,42.5,47.5,52.5,57.5,62.5,67.5,72.5,77.5,82.5,87.5,93.5], "labelExpr": "datum.value > 90 ? '90+' : format(datum.value - 2.5, 'd') + '-' + format(datum.value + 1.5, 'd')", "labelPadding": {"condition": {"test": "(datum.value - 2.5) % 10 == 5", "value": 22.7}, "value": 13.7}}},
    "y": {"field": "lo", "type": "quantitative", "scale": {"domain": [-0.3556, 9.256], "nice": false, "zero": false}, "axis": {"title": null, "labelOverlap": false, "tickCount": 100, "values": [0,2,4,6,8], "format": "d"}},
    "y2": {"field": "hi"},
    "stroke": {"field": "sex", "type": "nominal", "scale": {"domain": ["male","female","mean"], "range": ["#6e6e6e","#6e6e6e","#ff7b7b"]}, "legend": {"title": null, "orient": "none", "legendX": 365.4, "legendY": 1.5, "symbolType": "M-1.95,0H1.95", "symbolSize": 144, "symbolStrokeWidth": 1.3, "symbolOffset": -2, "strokeColor": "#111111", "fillColor": "#ffffff"}}}},
  {"data": {"name": "deaths"}, "transform": [{"filter": "datum.year == 2003 && datum.sex == 'female'"}],
   "mark": {"type": "rule", "xOffset": 3.9, "strokeWidth": 1.3},
   "encoding": {
    "x": {"field": "mid", "type": "quantitative", "scale": {"domain": [-2.54, 97.73], "nice": false, "zero": false}},
    "y": {"field": "lo", "type": "quantitative", "scale": {"domain": [-0.3556, 9.256], "nice": false, "zero": false}},
    "y2": {"field": "hi"},
    "stroke": {"field": "sex", "type": "nominal", "scale": {"domain": ["male","female","mean"], "range": ["#6e6e6e","#6e6e6e","#ff7b7b"]}, "legend": {"title": null, "orient": "none", "legendX": 365.4, "legendY": 1.5, "symbolType": "M-1.95,0H1.95", "symbolSize": 144, "symbolStrokeWidth": 1.3, "symbolOffset": -2, "strokeColor": "#111111", "fillColor": "#ffffff"}}}},
  {"data": {"name": "deaths"}, "transform": [{"filter": "datum.year == 2003 && datum.sex == 'male'"}],
   "mark": {"type": "point", "filled": true, "opacity": 1, "size": 22, "xOffset": -3.9},
   "encoding": {
    "x": {"field": "mid", "type": "quantitative", "scale": {"domain": [-2.54, 97.73], "nice": false, "zero": false}},
    "y": {"field": "pct", "type": "quantitative", "scale": {"domain": [-0.3556, 9.256], "nice": false, "zero": false}},
    "color": {"field": "sex", "type": "nominal", "scale": {"domain": ["male","female"], "range": ["#0000ff","#ff0000"]}, "legend": {"title": null, "orient": "none", "legendX": 365.4, "legendY": 1.5, "symbolType": "circle", "symbolSize": 22, "symbolStrokeWidth": 0, "symbolOffset": 2.5, "symbolOpacity": 1, "labelOpacity": 0, "labelExpr": "''", "strokeColor": "transparent", "fillColor": "transparent"}}}},
  {"data": {"name": "deaths"}, "transform": [{"filter": "datum.year == 2003 && datum.sex == 'female'"}],
   "mark": {"type": "point", "filled": true, "opacity": 1, "size": 22, "xOffset": 3.9},
   "encoding": {
    "x": {"field": "mid", "type": "quantitative", "scale": {"domain": [-2.54, 97.73], "nice": false, "zero": false}},
    "y": {"field": "pct", "type": "quantitative", "scale": {"domain": [-0.3556, 9.256], "nice": false, "zero": false}},
    "color": {"field": "sex", "type": "nominal", "scale": {"domain": ["male","female"], "range": ["#0000ff","#ff0000"]}, "legend": {"title": null, "orient": "none", "legendX": 365.4, "legendY": 1.5, "symbolType": "circle", "symbolSize": 22, "symbolStrokeWidth": 0, "symbolOffset": 2.5, "symbolOpacity": 1, "labelOpacity": 0, "labelExpr": "''", "strokeColor": "transparent", "fillColor": "transparent"}}}},
  {"data": {"name": "means"}, "transform": [{"filter": "datum.year == 2003"}],
   "mark": {"type": "rule", "color": "#ff0000", "strokeWidth": 1},
   "encoding": {"y": {"field": "mean", "type": "quantitative", "scale": {"domain": [-0.3556, 9.256], "nice": false, "zero": false}}}}
 ]},
{"title": "Percentage of deaths in 2004: Unknown province", "width": 491, "height": 270,
 "layer": [
  {"data": {"name": "deaths"}, "transform": [{"filter": "datum.year == 2004 && datum.sex == 'male'"}],
   "mark": {"type": "rule", "xOffset": -3.9, "strokeWidth": 1.3},
   "encoding": {
    "x": {"field": "mid", "type": "quantitative", "scale": {"domain": [-2.54, 98.37], "nice": false, "zero": false},
      "axis": {"title": "age group", "titleY": 32, "titleBaseline": "alphabetic", "labelOverlap": false, "tickCount": 100, "values": [2.5,7.5,12.5,17.5,22.5,27.5,32.5,37.5,42.5,47.5,52.5,57.5,62.5,67.5,72.5,77.5,82.5,87.5,93.5], "labelExpr": "datum.value > 90 ? '90+' : format(datum.value - 2.5, 'd') + '-' + format(datum.value + 1.5, 'd')", "labelPadding": {"condition": {"test": "(datum.value - 2.5) % 10 == 5", "value": 22.7}, "value": 13.7}}},
    "y": {"field": "lo", "type": "quantitative", "scale": {"domain": [-0.412, 10.742], "nice": false, "zero": false}, "axis": {"title": null, "labelOverlap": false, "tickCount": 100, "values": [0,2,4,6,8,10], "format": "d"}},
    "y2": {"field": "hi"},
    "stroke": {"field": "sex", "type": "nominal", "scale": {"domain": ["male","female","mean"], "range": ["#6e6e6e","#6e6e6e","#ff7b7b"]}, "legend": {"title": null, "orient": "none", "legendX": 364.7, "legendY": 1.5, "symbolType": "M-1.95,0H1.95", "symbolSize": 144, "symbolStrokeWidth": 1.3, "symbolOffset": -2, "strokeColor": "#111111", "fillColor": "#ffffff"}}}},
  {"data": {"name": "deaths"}, "transform": [{"filter": "datum.year == 2004 && datum.sex == 'female'"}],
   "mark": {"type": "rule", "xOffset": 3.9, "strokeWidth": 1.3},
   "encoding": {
    "x": {"field": "mid", "type": "quantitative", "scale": {"domain": [-2.54, 98.37], "nice": false, "zero": false}},
    "y": {"field": "lo", "type": "quantitative", "scale": {"domain": [-0.412, 10.742], "nice": false, "zero": false}},
    "y2": {"field": "hi"},
    "stroke": {"field": "sex", "type": "nominal", "scale": {"domain": ["male","female","mean"], "range": ["#6e6e6e","#6e6e6e","#ff7b7b"]}, "legend": {"title": null, "orient": "none", "legendX": 364.7, "legendY": 1.5, "symbolType": "M-1.95,0H1.95", "symbolSize": 144, "symbolStrokeWidth": 1.3, "symbolOffset": -2, "strokeColor": "#111111", "fillColor": "#ffffff"}}}},
  {"data": {"name": "deaths"}, "transform": [{"filter": "datum.year == 2004 && datum.sex == 'male'"}],
   "mark": {"type": "point", "filled": true, "opacity": 1, "size": 22, "xOffset": -3.9},
   "encoding": {
    "x": {"field": "mid", "type": "quantitative", "scale": {"domain": [-2.54, 98.37], "nice": false, "zero": false}},
    "y": {"field": "pct", "type": "quantitative", "scale": {"domain": [-0.412, 10.742], "nice": false, "zero": false}},
    "color": {"field": "sex", "type": "nominal", "scale": {"domain": ["male","female"], "range": ["#0000ff","#ff0000"]}, "legend": {"title": null, "orient": "none", "legendX": 364.7, "legendY": 1.5, "symbolType": "circle", "symbolSize": 22, "symbolStrokeWidth": 0, "symbolOffset": 2.5, "symbolOpacity": 1, "labelOpacity": 0, "labelExpr": "''", "strokeColor": "transparent", "fillColor": "transparent"}}}},
  {"data": {"name": "deaths"}, "transform": [{"filter": "datum.year == 2004 && datum.sex == 'female'"}],
   "mark": {"type": "point", "filled": true, "opacity": 1, "size": 22, "xOffset": 3.9},
   "encoding": {
    "x": {"field": "mid", "type": "quantitative", "scale": {"domain": [-2.54, 98.37], "nice": false, "zero": false}},
    "y": {"field": "pct", "type": "quantitative", "scale": {"domain": [-0.412, 10.742], "nice": false, "zero": false}},
    "color": {"field": "sex", "type": "nominal", "scale": {"domain": ["male","female"], "range": ["#0000ff","#ff0000"]}, "legend": {"title": null, "orient": "none", "legendX": 364.7, "legendY": 1.5, "symbolType": "circle", "symbolSize": 22, "symbolStrokeWidth": 0, "symbolOffset": 2.5, "symbolOpacity": 1, "labelOpacity": 0, "labelExpr": "''", "strokeColor": "transparent", "fillColor": "transparent"}}}},
  {"data": {"name": "means"}, "transform": [{"filter": "datum.year == 2004"}],
   "mark": {"type": "rule", "color": "#ff0000", "strokeWidth": 1},
   "encoding": {"y": {"field": "mean", "type": "quantitative", "scale": {"domain": [-0.412, 10.742], "nice": false, "zero": false}}}}
 ]},
{"title": "Percentage of deaths in 2005: Unknown province", "width": 488, "height": 270,
 "layer": [
  {"data": {"name": "deaths"}, "transform": [{"filter": "datum.year == 2005 && datum.sex == 'male'"}],
   "mark": {"type": "rule", "xOffset": -3.9, "strokeWidth": 1.3},
   "encoding": {
    "x": {"field": "mid", "type": "quantitative", "scale": {"domain": [-2.54, 97.73], "nice": false, "zero": false},
      "axis": {"title": "age group", "titleY": 32, "titleBaseline": "alphabetic", "labelOverlap": false, "tickCount": 100, "values": [2.5,7.5,12.5,17.5,22.5,27.5,32.5,37.5,42.5,47.5,52.5,57.5,62.5,67.5,72.5,77.5,82.5,87.5,93.5], "labelExpr": "datum.value > 90 ? '90+' : format(datum.value - 2.5, 'd') + '-' + format(datum.value + 1.5, 'd')", "labelPadding": {"condition": {"test": "(datum.value - 2.5) % 10 == 5", "value": 22.7}, "value": 13.7}}},
    "y": {"field": "lo", "type": "quantitative", "scale": {"domain": [-0.0572, 1.4915], "nice": false, "zero": false}, "axis": {"title": null, "labelOverlap": false, "tickCount": 100, "values": [0,0.2,0.4,0.6,0.8,1.0,1.2,1.4], "format": ".1f"}},
    "y2": {"field": "hi"},
    "stroke": {"field": "sex", "type": "nominal", "scale": {"domain": ["male","female","mean"], "range": ["#6e6e6e","#6e6e6e","#ff7b7b"]}, "legend": {"title": null, "orient": "none", "legendX": 365.4, "legendY": 1.5, "symbolType": "M-1.95,0H1.95", "symbolSize": 144, "symbolStrokeWidth": 1.3, "symbolOffset": -2, "strokeColor": "#111111", "fillColor": "#ffffff"}}}},
  {"data": {"name": "deaths"}, "transform": [{"filter": "datum.year == 2005 && datum.sex == 'female'"}],
   "mark": {"type": "rule", "xOffset": 3.9, "strokeWidth": 1.3},
   "encoding": {
    "x": {"field": "mid", "type": "quantitative", "scale": {"domain": [-2.54, 97.73], "nice": false, "zero": false}},
    "y": {"field": "lo", "type": "quantitative", "scale": {"domain": [-0.0572, 1.4915], "nice": false, "zero": false}},
    "y2": {"field": "hi"},
    "stroke": {"field": "sex", "type": "nominal", "scale": {"domain": ["male","female","mean"], "range": ["#6e6e6e","#6e6e6e","#ff7b7b"]}, "legend": {"title": null, "orient": "none", "legendX": 365.4, "legendY": 1.5, "symbolType": "M-1.95,0H1.95", "symbolSize": 144, "symbolStrokeWidth": 1.3, "symbolOffset": -2, "strokeColor": "#111111", "fillColor": "#ffffff"}}}},
  {"data": {"name": "deaths"}, "transform": [{"filter": "datum.year == 2005 && datum.sex == 'male'"}],
   "mark": {"type": "point", "filled": true, "opacity": 1, "size": 22, "xOffset": -3.9},
   "encoding": {
    "x": {"field": "mid", "type": "quantitative", "scale": {"domain": [-2.54, 97.73], "nice": false, "zero": false}},
    "y": {"field": "pct", "type": "quantitative", "scale": {"domain": [-0.0572, 1.4915], "nice": false, "zero": false}},
    "color": {"field": "sex", "type": "nominal", "scale": {"domain": ["male","female"], "range": ["#0000ff","#ff0000"]}, "legend": {"title": null, "orient": "none", "legendX": 365.4, "legendY": 1.5, "symbolType": "circle", "symbolSize": 22, "symbolStrokeWidth": 0, "symbolOffset": 2.5, "symbolOpacity": 1, "labelOpacity": 0, "labelExpr": "''", "strokeColor": "transparent", "fillColor": "transparent"}}}},
  {"data": {"name": "deaths"}, "transform": [{"filter": "datum.year == 2005 && datum.sex == 'female'"}],
   "mark": {"type": "point", "filled": true, "opacity": 1, "size": 22, "xOffset": 3.9},
   "encoding": {
    "x": {"field": "mid", "type": "quantitative", "scale": {"domain": [-2.54, 97.73], "nice": false, "zero": false}},
    "y": {"field": "pct", "type": "quantitative", "scale": {"domain": [-0.0572, 1.4915], "nice": false, "zero": false}},
    "color": {"field": "sex", "type": "nominal", "scale": {"domain": ["male","female"], "range": ["#0000ff","#ff0000"]}, "legend": {"title": null, "orient": "none", "legendX": 365.4, "legendY": 1.5, "symbolType": "circle", "symbolSize": 22, "symbolStrokeWidth": 0, "symbolOffset": 2.5, "symbolOpacity": 1, "labelOpacity": 0, "labelExpr": "''", "strokeColor": "transparent", "fillColor": "transparent"}}}},
  {"data": {"name": "means"}, "transform": [{"filter": "datum.year == 2005"}],
   "mark": {"type": "rule", "color": "#ff0000", "strokeWidth": 1},
   "encoding": {"y": {"field": "mean", "type": "quantitative", "scale": {"domain": [-0.0572, 1.4915], "nice": false, "zero": false}}}}
 ]}
],
"config": {
 "font": "Liberation Sans",
 "view": {"stroke": "#222222", "strokeWidth": 1},
 "title": {"anchor": "start", "frame": "group", "fontSize": 12, "fontWeight": "normal", "color": "#111111", "baseline": "alphabetic", "offset": 4},
 "axis": {"grid": false, "domain": false, "tickColor": "#111111", "labelColor": "#222222", "titleColor": "#222222", "titleFontWeight": "normal", "titleFontSize": 12},
 "axisX": {"tickSize": -4.5, "labelFontSize": 10, "labelBaseline": "alphabetic", "labelOverlap": false, "labelFlush": false, "labelBound": false},
 "axisY": {"tickSize": -5, "labelPadding": 9.65, "labelFontSize": 11, "labelOverlap": false},
 "legend": {"padding": 9, "labelOffset": 14, "rowPadding": 1.5, "labelFontSize": 12, "labelColor": "#111111", "labelFont": "Liberation Sans", "cornerRadius": 0}
}
}
